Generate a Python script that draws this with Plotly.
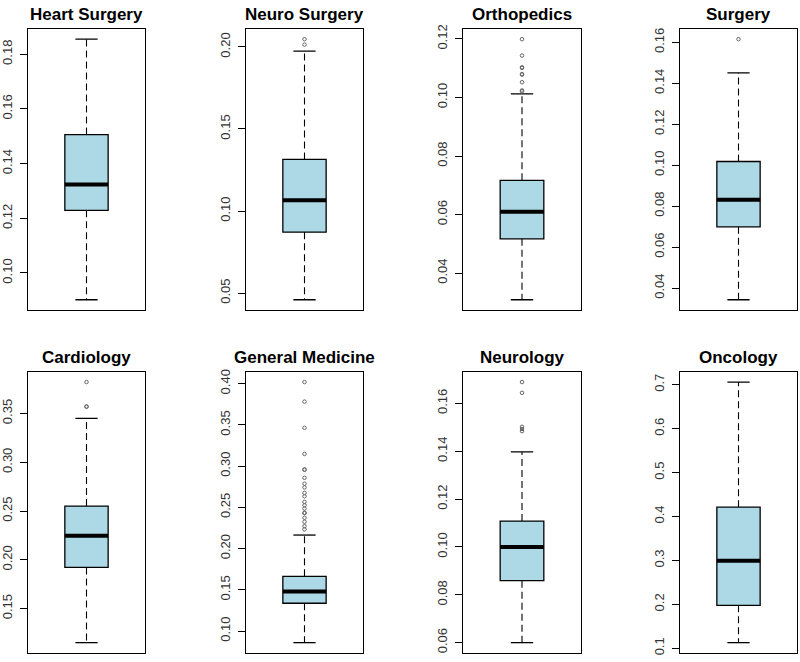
import plotly.graph_objects as go

# ---------------- data ----------------
categories = ["Heart Surgery", "Neuro Surgery", "Orthopedics", "Surgery",
              "Cardiology", "General Medicine", "Neurology", "Oncology"]
lower_whisker = [0.0902, 0.0459, 0.0309, 0.0343, 0.1151, 0.0859, 0.0600, 0.1128]
q1_values     = [0.1229, 0.0871, 0.0517, 0.0699, 0.1922, 0.1337, 0.0859, 0.1977]
medians       = [0.1324, 0.1066, 0.0610, 0.0831, 0.2247, 0.1478, 0.1000, 0.2995]
q3_values     = [0.1506, 0.1314, 0.0717, 0.1018, 0.2551, 0.1664, 0.1108, 0.4212]
upper_whisker = [0.1855, 0.1974, 0.1012, 0.1451, 0.3449, 0.2164, 0.1397, 0.7060]
outliers_heart = []
outliers_neuro_surg = [0.2047, 0.2014]
outliers_ortho = [0.1199, 0.1143, 0.1103, 0.1101, 0.1080, 0.1078, 0.1052, 0.1024, 0.1021]
outliers_surgery = [0.1615]
outliers_cardio = [0.3822, 0.3572, 0.3569]
outliers_genmed = [0.4020, 0.3783, 0.3465, 0.3148, 0.2960, 0.2956, 0.2859, 0.2787,
                   0.2742, 0.2675, 0.2634, 0.2566, 0.2525, 0.2486, 0.2435, 0.2431,
                   0.2374, 0.2325, 0.2272, 0.2233]
outliers_neurology = [0.1689, 0.1644, 0.1502, 0.1493, 0.1484]
outliers_oncology = []
outliers = [outliers_heart, outliers_neuro_surg, outliers_ortho, outliers_surgery,
            outliers_cardio, outliers_genmed, outliers_neurology, outliers_oncology]
tick_steps = [0.02, 0.05, 0.02, 0.02, 0.05, 0.05, 0.02, 0.1]
tick_formats = [".2f", ".2f", ".2f", ".2f", ".2f", ".2f", ".2f", ".1f"]

# ---------------- layout geometry (pixels) ----------------
W, H = 800, 662
col_px = [(28, 145), (246, 363), (463, 581), (680, 797)]
row_px = [(25, 309), (371, 655)]
BOX_HALF = 0.185
CAP_HALF = 0.095
FONT = "Liberation Sans, Arial, Helvetica, sans-serif"

fig = go.Figure()
layout = dict(width=W, height=H, margin=dict(l=0, r=0, t=0, b=0),
              paper_bgcolor="white", plot_bgcolor="white", showlegend=False,
              annotations=[])

for i, name in enumerate(categories):
    r, c = divmod(i, 4)
    xa = "x" if i == 0 else f"x{i+1}"
    ya = "y" if i == 0 else f"y{i+1}"
    xk = "xaxis" if i == 0 else f"xaxis{i+1}"
    yk = "yaxis" if i == 0 else f"yaxis{i+1}"
    x0, x1 = col_px[c]
    y0, y1 = row_px[r]
    xdom = [x0 / W, x1 / W]
    ydom = [1 - y1 / H, 1 - y0 / H]

    lo, q1, med, q3, hi = lower_whisker[i], q1_values[i], medians[i], q3_values[i], upper_whisker[i]
    outs = outliers[i]

    # box body
    fig.add_trace(go.Box(x=[1], q1=[q1], median=[med], q3=[q3],
                         lowerfence=[q1], upperfence=[q3], width=2 * BOX_HALF,
                         fillcolor="#ADD8E6", line=dict(color="black", width=1.3),
                         whiskerwidth=0, boxpoints=False, xaxis=xa, yaxis=ya,
                         hoverinfo="skip"))
    # dashed whiskers
    fig.add_trace(go.Scatter(x=[1, 1, None, 1, 1], y=[q3, hi, None, q1, lo],
                             mode="lines", line=dict(color="black", width=1.1, dash="7px,4px"),
                             xaxis=xa, yaxis=ya, hoverinfo="skip"))
    # whisker caps
    fig.add_trace(go.Scatter(x=[1 - CAP_HALF, 1 + CAP_HALF, None, 1 - CAP_HALF, 1 + CAP_HALF],
                             y=[hi, hi, None, lo, lo], mode="lines",
                             line=dict(color="black", width=1.3),
                             xaxis=xa, yaxis=ya, hoverinfo="skip"))
    # thick median
    fig.add_trace(go.Scatter(x=[1 - BOX_HALF, 1 + BOX_HALF], y=[med, med], mode="lines",
                             line=dict(color="black", width=4),
                             xaxis=xa, yaxis=ya, hoverinfo="skip"))
    # outliers
    if outs:
        fig.add_trace(go.Scatter(x=[1] * len(outs), y=outs, mode="markers",
                                 marker=dict(symbol="circle-open", size=3.5,
                                             color="#666666", line=dict(width=1)),
                                 xaxis=xa, yaxis=ya, hoverinfo="skip"))

    vmin = min([lo] + outs)
    vmax = max([hi] + outs)
    pad = 0.04 * (vmax - vmin)

    layout[xk] = dict(domain=xdom, range=[0.5, 1.5], showticklabels=False, ticks="",
                      showgrid=False, zeroline=False, showline=True, mirror=True,
                      linecolor="black", linewidth=1.3, anchor=ya)
    layout[yk] = dict(domain=ydom, range=[vmin - pad, vmax + pad], tick0=0, dtick=tick_steps[i],
                      tickformat=tick_formats[i], tickangle=-90, ticks="outside", ticklen=7,
                      tickwidth=1, tickcolor="black", showgrid=False, zeroline=False,
                      showline=True, mirror=True, linecolor="black", linewidth=1.3,
                      ticklabelstandoff=3,
                      tickfont=dict(family=FONT, size=13, color="#333333"), anchor=xa)
    layout["annotations"].append(dict(
        text=f"<b>{name}</b>", xref="paper", yref="paper",
        x=(xdom[0] + xdom[1]) / 2, y=ydom[1] + 14 / H, xanchor="center", yanchor="middle",
        showarrow=False, font=dict(family=FONT, size=17, color="black")))

fig.update_layout(**layout)
fig.write_html("out.html", config={"displayModeBar": False},
               post_script="document.body.style.margin='0';")
